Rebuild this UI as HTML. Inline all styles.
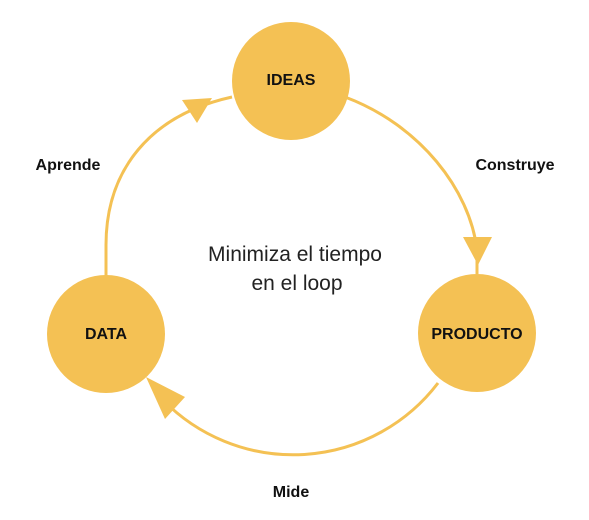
<!DOCTYPE html>
<html><head><meta charset="utf-8"><style>
html,body{margin:0;padding:0;background:#fff;width:589px;height:520px;overflow:hidden}
svg{display:block}
text{font-family:"Liberation Sans",sans-serif}
</style></head><body>
<svg width="589" height="520" viewBox="0 0 589 520" xmlns="http://www.w3.org/2000/svg">
<g fill="none" stroke="#F4C154" stroke-width="3">
<path d="M345,97 C420,125 470,190 477,250 L477,274"/>
<path d="M106,276 L106,245 C106,170 150,115 232,97"/>
<path d="M438,383 A182 182 0 0 1 163,400"/>
</g>
<g fill="#F4C154">
<polygon points="463,237 492,237 478,265"/>
<polygon points="182,100 212,98 197,123"/>
<polygon points="185,397 165,419 146,377"/>
<ellipse cx="291" cy="81" rx="59" ry="59"/>
<ellipse cx="106" cy="334" rx="59" ry="59"/>
<ellipse cx="477" cy="333" rx="59" ry="59"/>
</g>
<g font-weight="bold" font-size="16" fill="#111" text-anchor="middle">
<text x="291" y="85">IDEAS</text>
<text x="106" y="339">DATA</text>
<text x="477" y="339">PRODUCTO</text>
<text x="68" y="170">Aprende</text>
<text x="515" y="170">Construye</text>
<text x="291" y="497">Mide</text>
</g>
<g font-size="21" fill="#222" text-anchor="middle">
<text x="295" y="261">Minimiza el tiempo</text>
<text x="297" y="290">en el loop</text>
</g>
</svg>
</body></html>
